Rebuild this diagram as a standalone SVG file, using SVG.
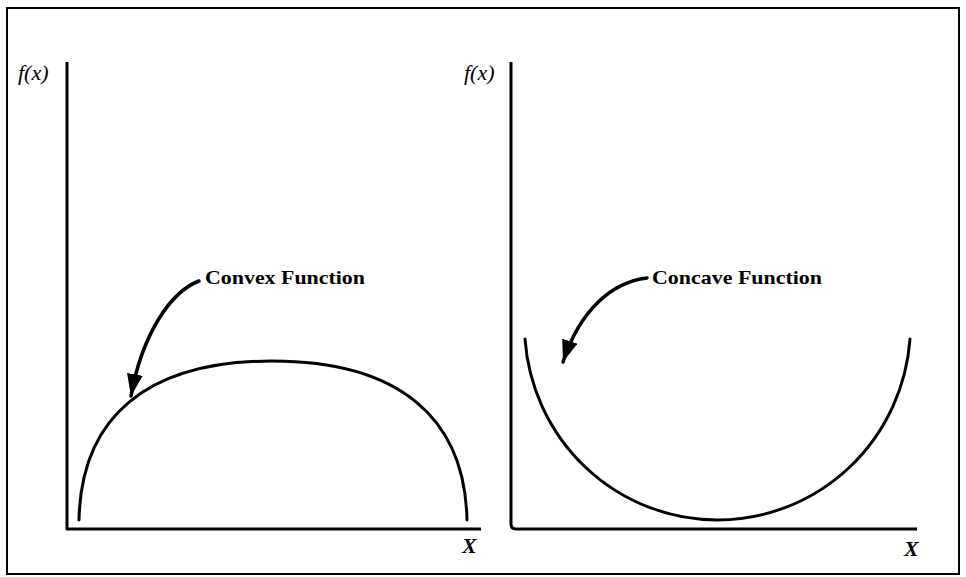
<svg xmlns="http://www.w3.org/2000/svg" width="966" height="577" viewBox="0 0 966 577">
<style>
.frame{fill:none;stroke:#000;stroke-width:2}
.axis{fill:none;stroke:#000;stroke-width:3;stroke-linejoin:round}
.curve{fill:none;stroke:#000;stroke-width:3;stroke-linecap:round}
.arrow{fill:none;stroke:#000;stroke-width:3.5;stroke-linecap:round}
.lbl{font-family:"Liberation Serif",serif;font-weight:bold;font-size:19px;fill:#000}
.math{font-family:"Liberation Serif",serif;font-style:italic;font-size:22px;fill:#000}
.xl{font-family:"Liberation Serif",serif;font-style:italic;font-weight:bold;font-size:22px;fill:#000}
</style>
<defs>
<marker id="head" markerUnits="userSpaceOnUse" markerWidth="24" markerHeight="16" refX="22" refY="8" orient="auto" viewBox="0 0 24 16">
<path d="M0,0 L22,8 L0,16 Z" fill="#000"/>
</marker>
</defs>
<rect class="frame" x="7" y="8" width="952" height="566"/>
<g id="left-plot">
<path class="axis" d="M67 62 L67 529 L481 529"/>
<text class="math" x="18" y="80">f(x)</text>
<text class="xl" x="462" y="553">X</text>
</g>
<g id="right-plot">
<path class="axis" d="M511 62 L511 524 Q511 529 516 529 L917 529"/>
<text class="math" x="464" y="80">f(x)</text>
<text class="xl" x="904" y="556">X</text>
</g>
<g id="convex-curve">
<path class="curve" d="M79 520 C81 417 147 361 272 361 C398 361 465 417 467 520"/>
</g>
<g id="concave-curve">
<path class="curve" d="M525 339 A193 195 0 0 0 910 339"/>
</g>
<g id="convex-label">
<text class="lbl" x="205" y="284" textLength="160" lengthAdjust="spacingAndGlyphs">Convex Function</text>
</g>
<g id="concave-label">
<text class="lbl" x="652" y="284" textLength="170" lengthAdjust="spacingAndGlyphs">Concave Function</text>
</g>
<g id="connectors">
<path class="arrow" d="M199 281 C170 292 142 335 131 396" marker-end="url(#head)"/>
<path class="arrow" d="M647 278 C612 282 580 310 563 362" marker-end="url(#head)"/>
</g>
</svg>
